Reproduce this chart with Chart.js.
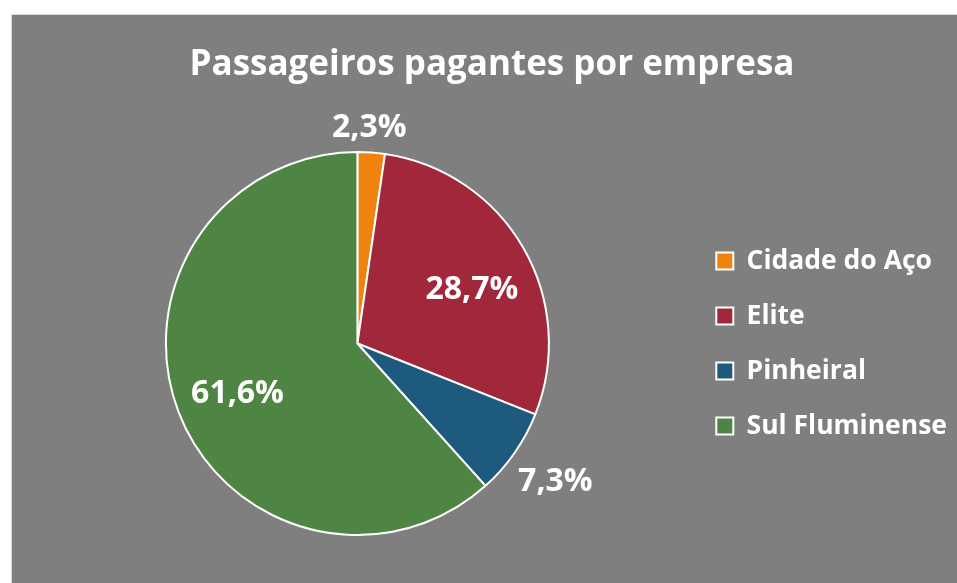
<!DOCTYPE html>
<html>
<head>
<meta charset="utf-8">
<script src="https://cdn.jsdelivr.net/npm/chart.js@4"></script>
<style>
  body { margin: 0; background: #ffffff; }
  #panel {
    position: absolute; left: 11px; top: 14px;
    width: 946px; height: 569px;
    background: #7f7f7f;
    border-left: 1px solid #d9d9d9; border-top: 1px solid #d9d9d9;
    box-sizing: border-box;
  }
</style>
</head>
<body>
<div id="panel"><canvas id="chart"></canvas></div>
<script>
const empresas = ['Cidade do Aço', 'Elite', 'Pinheiral', 'Sul Fluminense'];
const percentuais = [2.3, 28.7, 7.3, 61.6];
const cores = ['#f0820e', '#a1283a', '#1e5a7d', '#4e8542'];

const FONT = '"Open Sans", sans-serif';

// label placement: distance from centre (fraction of radius) and angle nudge (deg)
const labelDist = [1.13, 0.66, 1.26, 0.68];
const labelNudge = [-1, 5, 0, -2];

const pieLabels = {
    id: 'pieLabels',
    afterDatasetsDraw(chart) {
        const ctx = chart.ctx;
        const meta = chart.getDatasetMeta(0);
        ctx.save();
        ctx.fillStyle = '#ffffff';
        ctx.font = 'bold 32px ' + FONT;
        ctx.textAlign = 'center';
        ctx.textBaseline = 'middle';
        meta.data.forEach((arc, i) => {
            const p = arc.getProps(['x', 'y', 'startAngle', 'endAngle', 'outerRadius'], true);
            const mid = (p.startAngle + p.endAngle) / 2 + labelNudge[i] * Math.PI / 180;
            const r = p.outerRadius * labelDist[i];
            const txt = percentuais[i].toFixed(1).replace('.', ',') + '%';
            ctx.fillText(txt, p.x + Math.cos(mid) * r, p.y + Math.sin(mid) * r);
        });
        ctx.restore();
    }
};

new Chart(document.getElementById('chart'), {
    type: 'pie',
    data: {
        labels: empresas,
        datasets: [{
            data: percentuais,
            backgroundColor: cores,
            borderColor: '#ffffff',
            borderWidth: 2
        }]
    },
    options: {
        responsive: true,
        maintainAspectRatio: false,
        animation: false,
        layout: { padding: { top: 0, bottom: 47, left: 15, right: 0 } },
        plugins: {
            title: {
                display: true,
                text: 'Passageiros pagantes por empresa',
                color: '#ffffff',
                font: { family: FONT, size: 35, weight: 'bold', lineHeight: 1.2 },
                padding: { top: 29, bottom: 65 }
            },
            legend: {
                position: 'right',
                fullSize: false,
                labels: {
                    color: '#ffffff',
                    font: { family: FONT, size: 26.5, weight: 'bold' },
                    boxWidth: 17,
                    boxHeight: 17,
                    padding: 28.5
                }
            },
            tooltip: { enabled: false }
        }
    },
    plugins: [pieLabels]
});
</script>
</body>
</html>
